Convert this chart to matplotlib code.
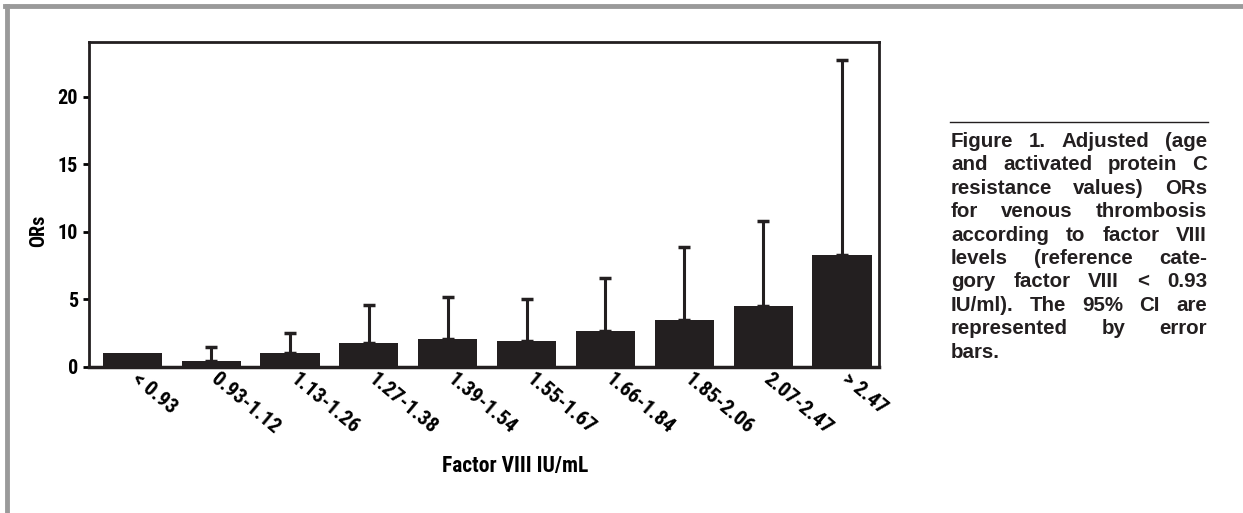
import matplotlib
matplotlib.use("Agg")
import matplotlib.pyplot as plt
from matplotlib.lines import Line2D

# data
categories = ["< 0.93", "0.93-1.12", "1.13-1.26", "1.27-1.38", "1.39-1.54",
              "1.55-1.67", "1.66-1.84", "1.85-2.06", "2.07-2.47", "> 2.47"]
odds_ratios = [1.0, 0.45, 1.0, 1.8, 2.1, 1.9, 2.7, 3.5, 4.5, 8.3]
upper_ci = [1.0, 1.5, 2.5, 4.6, 5.2, 5.0, 6.6, 8.9, 10.8, 22.7]
yticks = [0, 5, 10, 15, 20]

caption_lines = [
    "Figure 1. Adjusted (age",
    "and activated protein C",
    "resistance values) ORs",
    "for venous thrombosis",
    "according to factor VIII",
    "levels (reference cate-",
    "gory factor VIII < 0.93",
    "IU/ml). The 95% CI are",
    "represented by error",
    "bars.",
]

plt.rcParams['font.family'] = ['Roboto Condensed', 'Liberation Sans Narrow', 'DejaVu Sans']
plt.rcParams['font.weight'] = 'bold'
plt.rcParams['font.stretch'] = 'condensed'

W, H = 1243, 513
fig = plt.figure(figsize=(W / 100, H / 100), dpi=100)
# axes box in pixels: left 89, right 879, top 42, bottom 367
ax = fig.add_axes([89 / W, 1 - 367 / H, 790 / W, 325 / H])

x = list(range(len(categories)))
ax.bar(x, odds_ratios, width=0.75, color='#231f20', zorder=2)

# only the upper half of the CI is drawn; the reference category has none
err_x = [i for i in x if upper_ci[i] > odds_ratios[i]]
err_y = [odds_ratios[i] for i in err_x]
err_up = [upper_ci[i] - odds_ratios[i] for i in err_x]
ax.errorbar(err_x, err_y, yerr=[[0] * len(err_x), err_up], fmt='none',
            ecolor='#231f20', elinewidth=2.2, capsize=4.5, capthick=2.5, zorder=1)

ax.set_xlim(-0.55, 9.47)
ax.set_ylim(0, 24.07)
ax.set_yticks(yticks)
ax.set_yticklabels([str(t) for t in yticks], fontsize=14.5, fontweight='bold')
ax.tick_params(axis='y', direction='out', length=4, width=2, pad=4)
ax.set_xticks([i + 0.11 for i in x])
ax.set_xticklabels(categories, rotation=-40, ha='left', va='top',
                   rotation_mode='anchor', fontsize=15, fontweight='bold')
ax.tick_params(axis='x', length=0, pad=2)
for s in ax.spines.values():
    s.set_linewidth(2)
    s.set_color('#231f20')
ax.spines['bottom'].set_linewidth(2.5)

ax.set_ylabel("ORs", fontsize=14.5, fontweight='bold')
ax.yaxis.set_label_coords(-0.052, 0.418)
ax.set_xlabel("Factor VIII IU/mL", fontsize=15.5, fontweight='bold', va='baseline')
ax.xaxis.set_label_coords(0.540, -0.323)

# gray frame around the figure panel
fig.add_artist(Line2D([0.004, 1.0], [0.988, 0.988], color='#9a9a9a', lw=3.5,
                      transform=fig.transFigure))
fig.add_artist(Line2D([0.0055, 0.0055], [0.0, 0.988], color='#9a9a9a', lw=3.5,
                      transform=fig.transFigure))

# caption, justified by hand
cap_font = dict(fontsize=14.8, fontweight='bold', family=['Liberation Sans', 'DejaVu Sans'],
                fontstretch='normal', va='baseline', color='#231f20')
cap_left, cap_right = 951 / W, 1207 / W
fig.add_artist(Line2D([950 / W, 1208 / W], [1 - 122 / H, 1 - 122 / H],
                      color='#231f20', lw=1, transform=fig.transFigure))
renderer = fig.canvas.get_renderer()
line_h = 23.4 / H
y0 = 1 - 147 / H
for i, line in enumerate(caption_lines):
    y = y0 - i * line_h
    words = line.split()
    if i == len(caption_lines) - 1 or len(words) == 1:
        fig.text(cap_left, y, line, **cap_font)
        continue
    txts = [fig.text(0, y, w, **cap_font) for w in words]
    widths = [t.get_window_extent(renderer).width / fig.bbox.width for t in txts]
    gap = (cap_right - cap_left - sum(widths)) / (len(words) - 1)
    pos = cap_left
    for t, w in zip(txts, widths):
        t.set_x(pos)
        pos += w + gap

fig.savefig("out.png", dpi=100)
